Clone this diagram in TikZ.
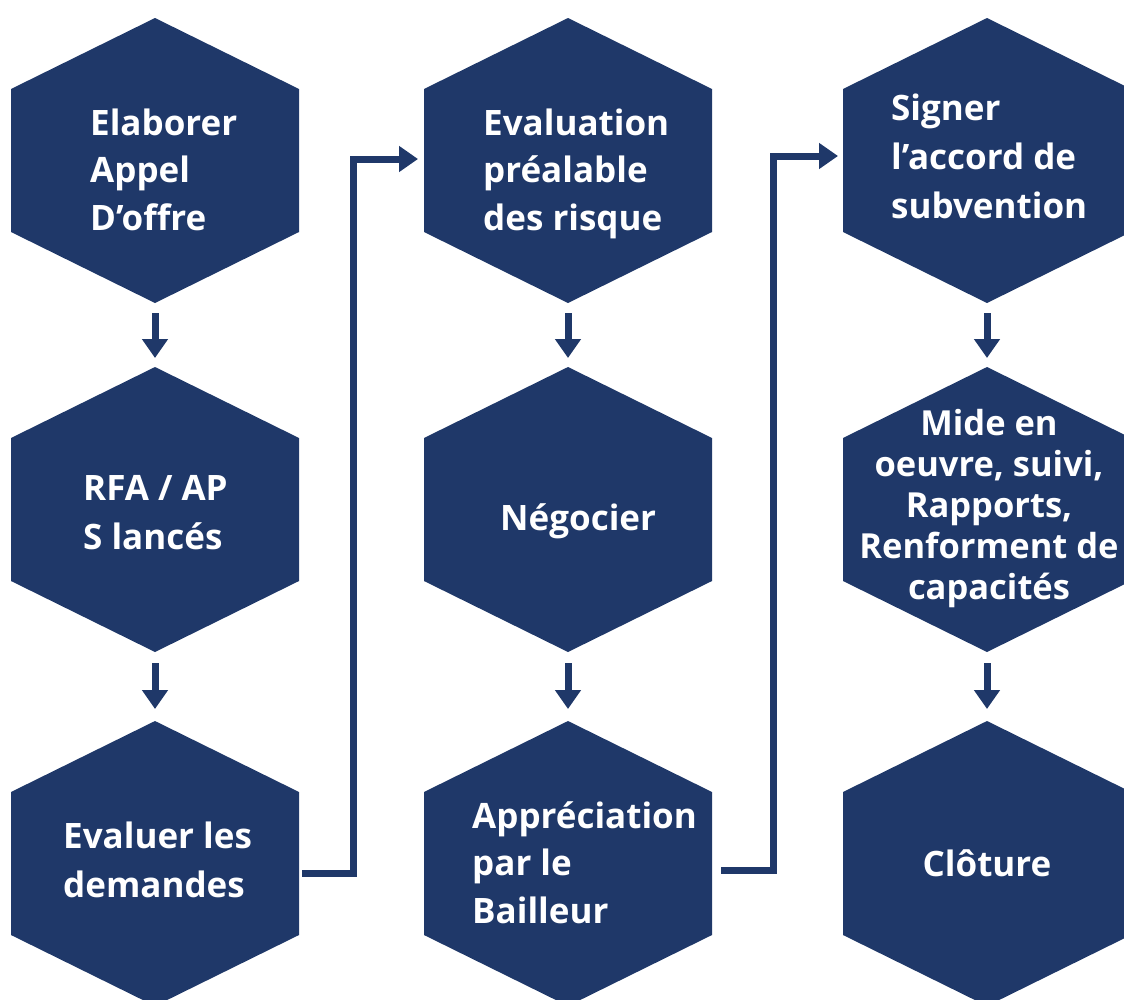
\documentclass[tikz,border=0pt]{standalone}
\usepackage{fontspec}
\setmainfont{Open Sans}
\usetikzlibrary{arrows.meta,calc}
\definecolor{navy}{RGB}{31,56,105}
\tikzset{
  hexfill/.style={fill=navy},
  lbl/.style={text=white,inner sep=0pt,align=left,anchor=base west,
    font=\bfseries\fontsize{35}{47.5}\selectfont},
  lblc/.style={lbl,align=center,anchor=base},
  arr/.style={draw=navy,line width=7pt,
    -{Triangle[width=25pt,length=19pt]}},
}
\newcommand\hexagon[3]{%
  \coordinate (#1) at (#2,#3);
  \fill[hexfill] ($(#1)+(0,-142)$) -- ++(144,71) -- ++(0,143) -- ++(-144,71)
     -- ++(-144,-71) -- ++(0,-143) -- cycle;
  \coordinate (#1-n) at ($(#1)+(0,-142)$);
  \coordinate (#1-s) at ($(#1)+(0,142)$);
  \coordinate (#1-e) at ($(#1)+(144,0)$);
  \coordinate (#1-w) at ($(#1)+(-144,0)$);
}
\begin{document}
\begin{tikzpicture}[x=1pt,y=-1pt]
\useasboundingbox (0,0) rectangle (1124,999);
\clip (0,0) rectangle (1124,999);
\hexagon{h11}{155}{160}
\hexagon{h12}{155}{509}
\hexagon{h13}{155}{863}
\hexagon{h21}{568}{160}
\hexagon{h22}{568}{509}
\hexagon{h23}{568}{863}
\hexagon{h31}{987}{160}
\hexagon{h32}{987}{509}
\hexagon{h33}{987}{863}

% anchors are at the baseline of the last line
\node[lbl] (t11) at (90,230) {Elaborer\\Appel\\D’offre};
\node[lbl,font=\bfseries\fontsize{35}{49}\selectfont] (t12) at (83,549) {RFA / AP\\S lancés};
\node[lbl,font=\bfseries\fontsize{35}{49}\selectfont] (t13) at (63,897) {Evaluer les\\demandes};
\node[lbl] (t21) at (483,230) {Evaluation\\préalable\\des risque};
\node[lbl] (t22) at (500,530) {Négocier};
\node[lbl] (t23) at (472,923) {Appréciation\\par le\\Bailleur};
\node[lbl,font=\bfseries\fontsize{35}{49}\selectfont] (t31) at (891,218) {Signer\\l’accord de\\subvention};
\node[lblc,font=\bfseries\fontsize{34.5}{41}\selectfont] (t32) at (989,599) {Mide en\\oeuvre, suivi,\\Rapports,\\Renforment de\\capacités};
\node[lblc] (t33) at (987,876) {Clôture};

\draw[arr] ($(h11-s)+(0,11)$) -- ($(h12-n)+(0,-9)$);
\draw[arr] ($(h12-s)+(0,12)$) -- ($(h13-n)+(0,-12)$);
\draw[arr] ($(h21-s)+(0,11)$) -- ($(h22-n)+(0,-9)$);
\draw[arr] ($(h22-s)+(0,12)$) -- ($(h23-n)+(0,-12)$);
\draw[arr] ($(h31-s)+(0,11)$) -- ($(h32-n)+(0,-9)$);
\draw[arr] ($(h32-s)+(0,12)$) -- ($(h33-n)+(0,-12)$);

\draw[arr] ($(h13-e)+(3,10)$) -- ++(51,0) |- ($(h21-w)+(-6,-1)$);
\draw[arr] ($(h23-e)+(9,7)$) -- ++(52,0) |- ($(h31-w)+(-5,-4)$);
\end{tikzpicture}
\end{document}
